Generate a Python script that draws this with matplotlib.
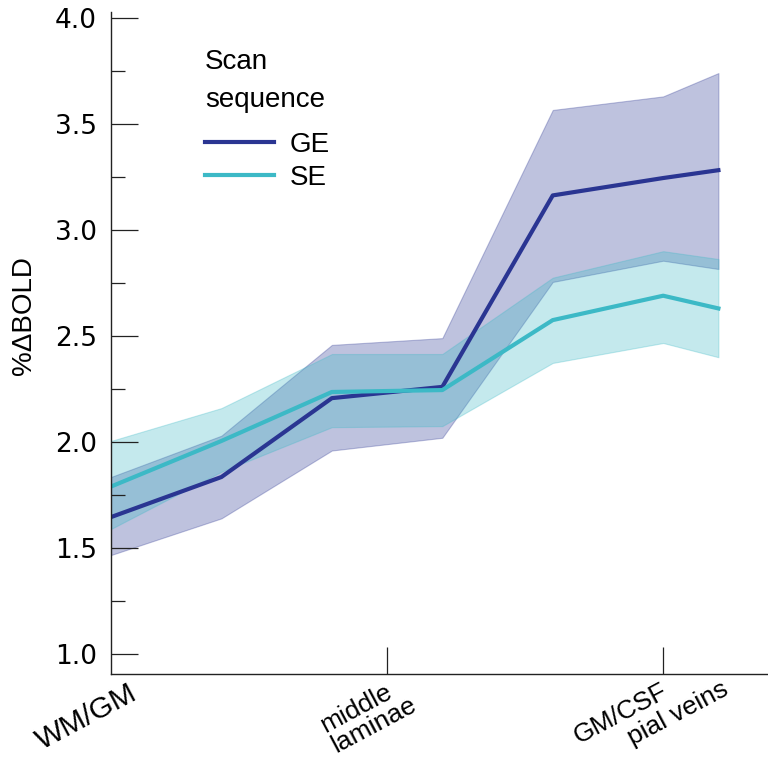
import matplotlib
matplotlib.use("Agg")
import matplotlib.pyplot as plt
import matplotlib.transforms as mtransforms
from matplotlib.ticker import MultipleLocator

# cortical depth positions (WM/GM -> GM/CSF, then pial veins)
depth = [0, 1, 2, 3, 4, 5, 5.5]

ge_mean = [1.646, 1.835, 2.207, 2.260, 3.163, 3.245, 3.282]
ge_low = [1.467, 1.640, 1.960, 2.020, 2.755, 2.855, 2.816]
ge_high = [1.835, 2.030, 2.458, 2.490, 3.566, 3.630, 3.740]

se_mean = [1.790, 2.005, 2.236, 2.245, 2.575, 2.690, 2.630]
se_low = [1.590, 1.860, 2.070, 2.075, 2.373, 2.467, 2.400]
se_high = [2.005, 2.160, 2.415, 2.415, 2.775, 2.900, 2.863]

xlabels = ["WM/GM", "middle\nlaminae", "GM/CSF", "pial veins"]
xlabel_pos = [0.16, 2.6, 4.97, 5.52]
xlabel_y = [-0.008, 0.002, -0.008, -0.004]
xlabel_size = [21.5, 19, 19, 19]

GE_COL = "#2a3592"
SE_COL = "#3cb9c6"
SANS = ["Liberation Sans", "DejaVu Sans"]

fig = plt.figure(figsize=(7.68, 7.58), dpi=100)
ax = fig.add_axes([111 / 768, 1 - 674 / 758, 656 / 768, 662 / 758])

ax.fill_between(depth, ge_low, ge_high, color=GE_COL, alpha=0.3, lw=0.8)
ax.plot(depth, ge_mean, color=GE_COL, lw=3, label="GE")
ax.fill_between(depth, se_low, se_high, color=SE_COL, alpha=0.3, lw=0.8)
ax.plot(depth, se_mean, color=SE_COL, lw=3, label="SE")

ax.set_xlim(0, 5.94)
ax.set_ylim(0.906, 4.028)

for s in ["top", "right"]:
    ax.spines[s].set_visible(False)
for s in ["left", "bottom"]:
    ax.spines[s].set_linewidth(1.0)
    ax.spines[s].set_color("#222222")

ax.yaxis.set_major_locator(MultipleLocator(0.5))
ax.yaxis.set_minor_locator(MultipleLocator(0.25))
ax.tick_params(axis="y", which="major", direction="in", length=19.5, width=0.9,
               pad=10, labelsize=19, color="#222222")
ax.tick_params(axis="y", which="minor", direction="in", length=10, width=0.9,
               color="#222222")
for lab in ax.get_yticklabels():
    lab.set_family("DejaVu Sans")

ax.set_xticks([2.5, 5])
ax.set_xticklabels(["", ""])
ax.tick_params(axis="x", which="major", direction="in", length=19.5, width=0.9,
               color="#222222")

trans = mtransforms.blended_transform_factory(ax.transData, ax.transAxes)
for lab, xp, yp, fs in zip(xlabels, xlabel_pos, xlabel_y, xlabel_size):
    ax.text(xp, yp, lab, transform=trans, rotation=28, ha="right", va="top",
            rotation_mode="anchor", fontsize=fs, family=SANS,
            multialignment="left", linespacing=0.95)

ax.set_ylabel("%ΔBOLD", fontsize=20, family=SANS)
ax.yaxis.set_label_coords(-0.113, 0.542)

leg = ax.legend(title="Scan\nsequence", loc="upper left",
                bbox_to_anchor=(0.143, 0.944), frameon=False,
                handlelength=2.5, handletextpad=0.55,
                borderpad=0, borderaxespad=0, labelspacing=0.26,
                prop={"family": SANS, "size": 20})
leg.get_title().set_family(SANS)
leg.get_title().set_fontsize(20)
leg.get_title().set_linespacing(1.6)
leg._legend_box.align = "left"
leg._legend_box.sep = 13.5
for line in leg.get_lines():
    line.set_linewidth(3)

fig.savefig("out.png", dpi=100)
